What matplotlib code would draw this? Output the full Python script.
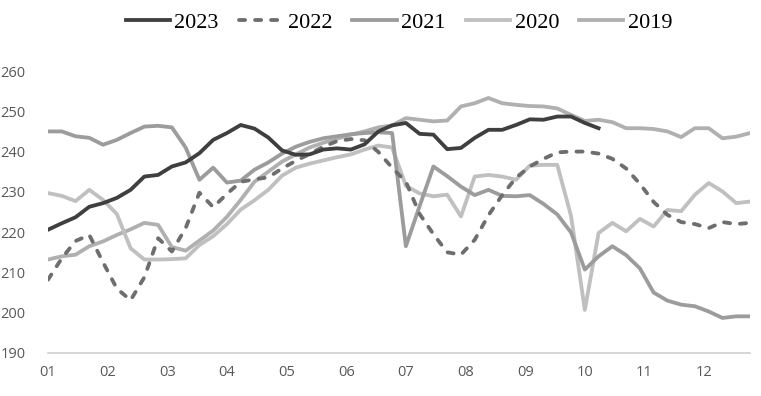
import matplotlib
matplotlib.use("Agg")
import matplotlib.pyplot as plt
import numpy as np

# weekly values (52 weeks)
months = ['01', '02', '03', '04', '05', '06', '07', '08', '09', '10', '11', '12']

y2023 = [220.6, 222.2, 223.7, 226.3, 227.2, 228.5, 230.5, 233.8, 234.2, 236.3,
         237.3, 239.6, 242.9, 244.6, 246.6, 245.7, 243.5, 240.3, 239.2, 239.3,
         240.5, 240.8, 240.5, 241.8, 245.0, 246.5, 247.1, 244.4, 244.2, 240.6,
         240.9, 243.4, 245.4, 245.4, 246.6, 248.0, 247.9, 248.7, 248.7, 247.1,
         245.8]

y2022 = [208.2, 213.5, 217.8, 219.3, 212.5, 206.0, 203.1, 208.8, 218.5, 215.2,
         221.0, 229.8, 226.2, 229.5, 232.5, 233.1, 233.6, 235.8, 237.7, 239.4,
         241.2, 242.6, 243.1, 242.8, 239.9, 236.0, 232.5, 224.5, 219.5, 215.0,
         214.4, 218.1, 224.2, 229.2, 233.5, 236.3, 238.2, 239.8, 240.0, 240.0,
         239.5, 238.2, 235.8, 232.0, 227.5, 224.3, 222.5, 222.0, 221.0, 222.5,
         222.0, 222.3]

y2021 = [245.0, 245.0, 243.8, 243.4, 241.7, 242.9, 244.6, 246.2, 246.4, 246.0,
         241.0, 233.0, 236.0, 232.3, 232.8, 235.5, 237.3, 239.5, 241.2, 242.4,
         243.3, 243.8, 244.3, 244.6, 244.8, 244.6, 216.5, 226.5, 236.3, 233.9,
         231.3, 229.2, 230.5, 229.0, 228.9, 229.2, 227.0, 224.4, 219.9, 210.7,
         214.0, 216.5, 214.3, 211.0, 205.0, 203.0, 202.0, 201.6, 200.3, 198.7,
         199.1, 199.1]

y2020 = [229.7, 229.0, 227.7, 230.5, 228.0, 224.5, 216.0, 213.2, 213.2, 213.3,
         213.5, 216.8, 219.0, 222.0, 225.6, 227.9, 230.5, 234.0, 236.0, 237.0,
         237.8, 238.6, 239.3, 240.5, 241.5, 241.0, 231.5, 229.6, 228.9, 229.3,
         223.9, 233.8, 234.2, 233.8, 233.0, 236.5, 236.7, 236.7, 224.0, 200.7,
         219.8, 222.3, 220.2, 223.3, 221.4, 225.5, 225.2, 229.3, 232.2, 230.1,
         227.2, 227.6]

y2019 = [213.2, 214.0, 214.4, 216.5, 217.7, 219.3, 220.7, 222.3, 221.8, 216.3,
         215.4, 217.9, 220.4, 223.8, 228.0, 232.5, 235.0, 237.5, 239.3, 241.0,
         242.2, 243.2, 244.2, 245.0, 246.0, 246.5, 248.3, 247.9, 247.5, 247.7,
         251.2, 252.0, 253.3, 252.0, 251.6, 251.3, 251.2, 250.7, 249.1, 247.6,
         247.9, 247.3, 245.8, 245.8, 245.6, 245.0, 243.6, 245.8, 245.8, 243.3,
         243.7, 244.6]

fig = plt.figure(figsize=(7.61, 3.96), dpi=100)
ax = fig.add_axes([48 / 761, 43 / 396, 702 / 761, 282 / 396])

lw = 2.75
ax.plot(np.arange(len(y2019)), y2019, color='#b0b0b0', lw=lw, label='2019', zorder=2)
ax.plot(np.arange(len(y2020)), y2020, color='#c0c0c0', lw=lw, label='2020', zorder=2)
ax.plot(np.arange(len(y2021)), y2021, color='#9c9c9c', lw=lw, label='2021', zorder=3)
ax.plot(np.arange(len(y2022)), y2022, color='#6e6e6e', lw=lw, label='2022',
        dashes=(1.6, 2.6), dash_capstyle='round', zorder=4)
ax.plot(np.arange(len(y2023)), y2023, color='#3f3f3f', lw=lw, label='2023', zorder=5)

ax.set_xlim(0, 51)
ax.set_ylim(190, 260)
ax.set_yticks(np.arange(190, 261, 10))
ax.set_xticks(np.arange(12) * 52 / 12)
ax.set_xticklabels(months)

for s in ['top', 'right', 'left']:
    ax.spines[s].set_visible(False)
ax.spines['bottom'].set_color('#d0d0d0')
ax.spines['bottom'].set_linewidth(1.2)
ax.tick_params(length=0, labelsize=10.5, labelcolor='#595959')
ax.tick_params(axis='y', pad=16)
ax.tick_params(axis='x', pad=9)
for t in ax.get_xticklabels() + ax.get_yticklabels():
    t.set_family('Open Sans')

# legend order as in the picture
h, l = ax.get_legend_handles_labels()
order = [4, 3, 2, 1, 0]
fig.legend([h[i] for i in order], [l[i] for i in order], loc='upper center',
           bbox_to_anchor=(399 / 761, 1.02), ncol=5, frameon=False,
           prop={'family': 'Liberation Serif', 'size': 16},
           handlelength=2.0, handletextpad=0.2, columnspacing=0.9)

fig.savefig('out.png', dpi=100)
